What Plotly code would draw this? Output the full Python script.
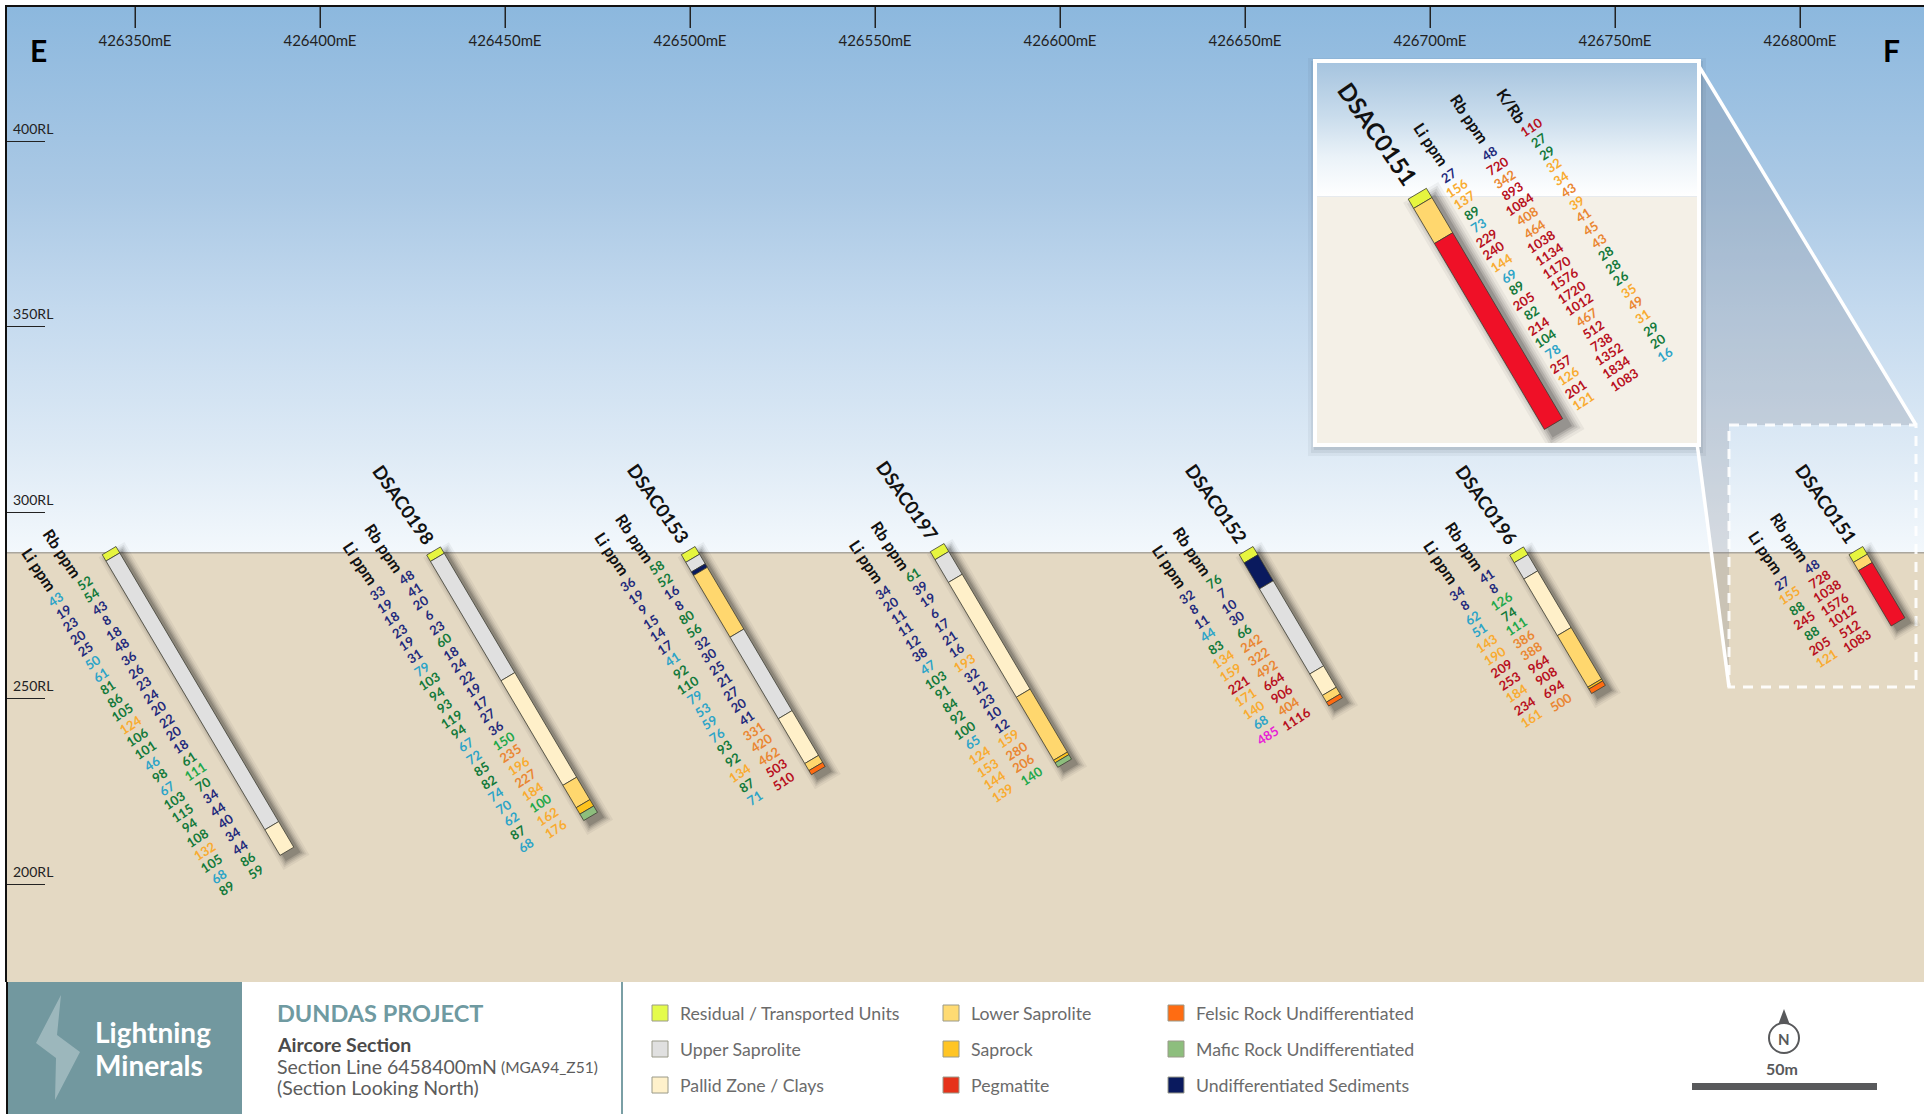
import math
import plotly.graph_objects as go

# ---------------- data ----------------
TICK_E = [426350, 426400, 426450, 426500, 426550, 426600, 426650, 426700, 426750, 426800]
TICK_RL = [200, 250, 300, 350, 400]
SURFACE_RL = 289.2

HOLE_IDS = ["", "DSAC0198", "DSAC0153", "DSAC0197", "DSAC0152", "DSAC0196", "DSAC0151"]
COLLAR_E = [426343.0, 426430.7, 426499.5, 426566.8, 426650.3, 426723.4, 426815.1]
COLLAR_RL = [289.8, 289.7, 289.8, 290.6, 289.8, 289.7, 289.8]

LITH_NAMES = ["Residual / Transported Units", "Upper Saprolite", "Pallid Zone / Clays",
              "Lower Saprolite", "Saprock", "Pegmatite",
              "Felsic Rock Undifferentiated", "Mafic Rock Undifferentiated", "Undifferentiated Sediments"]

# (lithology index, bottom depth in metres) down each hole
LOG_1 = [(0, 2), (1, 86), (2, 94)]
LOG_2 = [(0, 2), (1, 39.3), (2, 72), (3, 79), (4, 81), (7, 83)]
LOG_3 = [(0, 2.4), (1, 5.4), (8, 6.5), (3, 25.8), (1, 51.3), (2, 65.3), (3, 67.5), (6, 68.8)]
LOG_4 = [(0, 2.5), (1, 9.6), (2, 45.5), (3, 65.2), (4, 66), (7, 67.4)]
LOG_5 = [(0, 2.6), (8, 10.7), (1, 37.3), (2, 44), (3, 46.1), (6, 47.3)]
LOG_6 = [(0, 2.4), (1, 7.5), (2, 25.2), (3, 41.3), (4, 41.9), (6, 43.3)]
LOG_7 = [(0, 2.4), (3, 5), (5, 22.3)]
LOG_INSET = [(0, 0.9), (3, 4.3), (5, 22.3)]

LI_1 = [43, 19, 23, 20, 25, 50, 61, 81, 86, 105, 124, 106, 101, 46, 98, 67, 103, 115, 94, 108, 132, 105, 68, 89]
RB_1 = [52, 54, 43, 8, 18, 48, 36, 26, 23, 24, 20, 22, 20, 18, 61, 111, 70, 34, 44, 40, 34, 44, 86, 59]
LI_2 = [33, 19, 18, 23, 19, 31, 79, 103, 94, 93, 119, 94, 67, 72, 85, 82, 74, 70, 62, 87, 68]
RB_2 = [48, 41, 20, 6, 23, 60, 18, 24, 22, 19, 17, 27, 36, 150, 235, 196, 227, 184, 100, 162, 176]
LI_3 = [36, 19, 9, 15, 14, 17, 41, 92, 110, 79, 53, 59, 76, 93, 92, 134, 87, 71]
RB_3 = [58, 52, 16, 8, 80, 56, 32, 30, 25, 21, 27, 20, 41, 331, 420, 462, 503, 510]
LI_4 = [34, 20, 11, 11, 12, 38, 47, 103, 91, 84, 92, 100, 65, 124, 153, 144, 139]
RB_4 = [61, 39, 19, 6, 17, 21, 16, 193, 32, 12, 23, 10, 12, 159, 280, 206, 140]
LI_5 = [32, 8, 11, 44, 83, 134, 159, 221, 171, 140, 68, 485]
RB_5 = [76, 7, 10, 30, 66, 242, 322, 492, 664, 906, 404, 1116]
LI_6 = [34, 8, 62, 51, 143, 190, 209, 253, 184, 234, 161]
RB_6 = [41, 8, 126, 74, 111, 386, 388, 964, 908, 694, 500]
LI_7 = [27, 155, 88, 245, 88, 205, 121]
RB_7 = [48, 728, 1038, 1576, 1012, 512, 1083]
LI_INSET = [27, 156, 137, 89, 73, 229, 240, 144, 69, 89, 205, 82, 214, 104, 78, 257, 126, 201, 121]
RB_INSET = [48, 720, 342, 893, 1084, 408, 464, 1038, 1134, 1170, 1576, 1720, 1012, 467, 512, 738, 1352, 1834, 1083]
KRB_INSET = [110, 27, 29, 32, 34, 43, 39, 41, 45, 43, 28, 28, 26, 35, 49, 31, 29, 20, 16]

LOGS = [LOG_1, LOG_2, LOG_3, LOG_4, LOG_5, LOG_6, LOG_7]
LI_VALUES = [LI_1, LI_2, LI_3, LI_4, LI_5, LI_6, LI_7]
RB_VALUES = [RB_1, RB_2, RB_3, RB_4, RB_5, RB_6, RB_7]

# ---------------- styles & layout constants ----------------
W, H = 1924, 1114
FONT = "Lato"
LITH_COLORS = ["#e6f53f", "#e0e0e0", "#fff0c9", "#ffd76e", "#fdc31e", "#ef1027", "#ff6c12", "#8dbe7d", "#0a1a5e"]
LEGEND_COLORS = ["#e4fb4b", "#e0e0e0", "#fff1cb", "#ffdb73", "#ffc525", "#e6321a", "#ff6c12", "#8dbe7d", "#0a1a5e"]
NAVY, TEAL, GREEN, LIME, AMBER, ORANGE, RED, PINK = ("#1f2a7c", "#2ca4c8", "#12793a", "#1ea84a",
                                                     "#f9ab30", "#ea8632", "#b80f20", "#e81fd6")
# pixel -> axis frame of the main section
PX_X0, PX_Y0, PX_Y1 = 7, 7, 982
SX, SY = 3.7, 3.716
E_AT_135 = 426350
RL_AT_513 = 300
x_lo = E_AT_135 + (PX_X0 - 135) / SX
x_hi = E_AT_135 + (W - 135) / SX
y_hi = RL_AT_513 + (512.7 - PX_Y0) / SY
y_lo = RL_AT_513 - (PX_Y1 - 512.7) / SY
# inset frame
IN_L, IN_R, IN_T, IN_B = 1317, 1697, 63, 443
IK = 12.0
IC_PX = (1417.3, 193.7)
ix_lo = COLLAR_E[6] - (IC_PX[0] - IN_L) / IK
ix_hi = COLLAR_E[6] + (IN_R - IC_PX[0]) / IK
iy_hi = COLLAR_RL[6] + (IC_PX[1] - IN_T) / IK
iy_lo = COLLAR_RL[6] - (IN_B - IC_PX[1]) / IK
IN_SURFACE = COLLAR_RL[6] - (196.7 - IC_PX[1]) / IK

DIR = (math.cos(math.radians(59.4)), math.sin(math.radians(59.4)))
NRM = (-DIR[1], DIR[0])
LABEL_STEP = 14.6
LI_OFF = [(14.7, 70.6), (7.7, 70), (-1.8, 68.7), (10.4, 68.9), (9.1, 75), (5.7, 72.3), (-9.9, 79.8)]
RB_OFF = [(15, 37.6), (8.9, 36.6), (-1.5, 35.1), (10.8, 35.4), (9.7, 42.6), (6.2, 38.5), (-9, 45.4)]


def li_color(v):
    if v < 40: return NAVY
    if v <= 80: return TEAL
    if v < 120: return GREEN
    if v < 200: return AMBER
    if v < 400: return RED
    return PINK


def rb_color(v):
    if v < 50: return NAVY
    if v < 100: return GREEN
    if v <= 150: return LIME
    if v < 200: return AMBER
    if v <= 500: return ORANGE
    return RED


def krb_color(v):
    if v < 20: return TEAL
    if v < 30: return GREEN
    if v < 40: return AMBER
    if v < 100: return ORANGE
    return RED


def section_xy(e, rl, s, t, sx, sy):
    """collar + s px along hole + t px across it, in axis units"""
    return (e + (s * DIR[0] + t * NRM[0]) / sx, rl - (s * DIR[1] + t * NRM[1]) / sy)


def hole_poly(e, rl, d0, d1, half, sx, sy, k, shift=(0, 0), grow=0):
    a, b = (d0 * k - grow), (d1 * k + grow)
    pts = [(a, half + grow), (a, -half - grow), (b, -half - grow), (b, half + grow), (a, half + grow)]
    out = [section_xy(e, rl, s, t, sx, sy) for s, t in pts]
    return [p[0] + shift[0] / sx for p in out], [p[1] - shift[1] / sy for p in out]


fig = go.Figure()

# sky and ground
fig.add_trace(go.Scatter(x=[x_lo, x_hi, x_hi, x_lo, x_lo], y=[SURFACE_RL, SURFACE_RL, y_hi, y_hi, SURFACE_RL],
                         mode="lines", line=dict(width=0), fill="toself", hoverinfo="skip", showlegend=False,
                         fillgradient=dict(type="vertical", colorscale=[[0, "#f3f8fc"], [0.2, "#dce9f5"], [0.45, "#c3d9ee"],
                                                                        [0.66, "#abc9e5"], [1, "#8cb8de"]])))
fig.add_trace(go.Scatter(x=[x_lo, x_hi, x_hi, x_lo, x_lo], y=[y_lo, y_lo, SURFACE_RL, SURFACE_RL, y_lo],
                         mode="lines", line=dict(width=0), fill="toself", fillcolor="#e4d9c3", hoverinfo="skip", showlegend=False))
fig.add_trace(go.Scatter(x=[x_lo, x_hi], y=[SURFACE_RL, SURFACE_RL], mode="lines",
                         line=dict(color="#aaa69d", width=1.5), hoverinfo="skip", showlegend=False))

# easting tick marks hanging from the top frame
tick_x, tick_y = [], []
for v in TICK_E:
    tick_x += [v, v, None]
    tick_y += [y_hi, y_hi - 21 / SY, None]
fig.add_trace(go.Scatter(x=tick_x, y=tick_y, mode="lines", line=dict(color="#222222", width=1),
                         hoverinfo="skip", showlegend=False))


def px_e(px):
    return None if px is None else E_AT_135 + (px - 135) / SX


def px_rl(py):
    return None if py is None else RL_AT_513 - (py - 512.7) / SY


# connector from the zoom box to the inset
BOX = (1729, 1916, 425, 687)
fig.add_trace(go.Scatter(
    x=[px_e(v) for v in (IN_R, BOX[1], BOX[0], BOX[0], IN_R, IN_R)],
    y=[px_rl(v) for v in (IN_T, BOX[2], BOX[2], BOX[3], IN_B, IN_T)],
    mode="lines", line=dict(width=0), fill="toself", fillcolor="rgba(120,125,140,0.24)",
    hoverinfo="skip", showlegend=False))
# inset drop shadow
for g, a in ((9, 0.05), (6, 0.07), (3, 0.09)):
    fig.add_trace(go.Scatter(
        x=[px_e(v) for v in (IN_L - g, IN_R + g, IN_R + g, IN_L - g, IN_L - g)],
        y=[px_rl(v) for v in (IN_T - g + 4, IN_T - g + 4, IN_B + g + 4, IN_B + g + 4, IN_T - g + 4)],
        mode="lines", line=dict(width=0), fill="toself", fillcolor=f"rgba(30,40,60,{a})",
        hoverinfo="skip", showlegend=False))
fig.add_trace(go.Scatter(
    x=[px_e(v) for v in (IN_R, BOX[1], None, IN_R, BOX[0])],
    y=[px_rl(v) for v in (IN_T, BOX[2], None, IN_B, BOX[3])],
    mode="lines", line=dict(color="white", width=3.5), hoverinfo="skip", showlegend=False, connectgaps=False))
fig.add_trace(go.Scatter(
    x=[px_e(v) for v in (BOX[0], BOX[1], BOX[1], BOX[0], BOX[0])],
    y=[px_rl(v) for v in (BOX[2], BOX[2], BOX[3], BOX[3], BOX[2])],
    mode="lines", line=dict(color="rgba(255,255,255,0.9)", width=3, dash="10px 8px"),
    hoverinfo="skip", showlegend=False))


def add_hole(e, rl, log, half, sx, sy, k, xa, ya, shadow_scale=1.0):
    for grow, alpha in ((7, 0.05), (5, 0.07), (3.5, 0.09), (2, 0.12), (0.5, 0.16)):
        xs, ys = hole_poly(e, rl, 0, log[-1][1], half, sx, sy, k,
                           shift=(6 * shadow_scale, 5 * shadow_scale), grow=grow * shadow_scale)
        fig.add_trace(go.Scatter(x=xs, y=ys, xaxis=xa, yaxis=ya, mode="lines", line=dict(width=0),
                                 fill="toself", fillcolor=f"rgba(20,20,20,{alpha})",
                                 hoverinfo="skip", showlegend=False))
    top = 0
    for lith, bottom in log:
        xs, ys = hole_poly(e, rl, top, bottom, half, sx, sy, k)
        fig.add_trace(go.Scatter(x=xs, y=ys, xaxis=xa, yaxis=ya, mode="lines",
                                 line=dict(color="#3c3c32", width=0.8), fill="toself",
                                 fillcolor=LITH_COLORS[lith], name=LITH_NAMES[lith],
                                 hoverinfo="name", showlegend=False))
        top = bottom


for i in range(len(HOLE_IDS)):
    add_hole(COLLAR_E[i], COLLAR_RL[i], LOGS[i], 8.0, SX, SY, SY, "x", "y")

# inset
fig.add_trace(go.Scatter(x=[ix_lo, ix_hi, ix_hi, ix_lo, ix_lo], y=[IN_SURFACE, IN_SURFACE, iy_hi, iy_hi, IN_SURFACE],
                         xaxis="x2", yaxis="y2", mode="lines", line=dict(width=0), fill="toself", hoverinfo="skip",
                         showlegend=False,
                         fillgradient=dict(type="vertical", colorscale=[[0, "#ffffff"], [0.3, "#eaf2f8"], [0.6, "#c9dcec"], [1, "#a6c4df"]])))
fig.add_trace(go.Scatter(x=[ix_lo, ix_hi, ix_hi, ix_lo, ix_lo], y=[iy_lo, iy_lo, IN_SURFACE, IN_SURFACE, iy_lo],
                         xaxis="x2", yaxis="y2", mode="lines", line=dict(width=0), fill="toself",
                         fillcolor="#f4f0e7", hoverinfo="skip", showlegend=False))
add_hole(COLLAR_E[6], COLLAR_RL[6], LOG_INSET, 10.6, IK, IK, IK, "x2", "y2", shadow_scale=1.4)

# legend proxies, three stacked columns
LEGEND_COLUMNS = [("legend", [0, 1, 2]), ("legend2", [3, 4, 5]), ("legend3", [6, 7, 8])]
for lg, items in LEGEND_COLUMNS:
    for j in items:
        fig.add_trace(go.Scatter(x=[None], y=[None], mode="markers", name=LITH_NAMES[j], legend=lg, legendgroup=f"g{j}",
                                 marker=dict(symbol="square", size=16, color=LEGEND_COLORS[j],
                                             line=dict(color="#9a9a8a", width=1)), hoverinfo="skip"))

ann = []


def label(x, y, text, size, color, angle=0, xref="x", yref="y", bold=False, **kw):
    ann.append(dict(x=x, y=y, xref=xref, yref=yref, text=f"<b>{text}</b>" if bold else text, showarrow=False,
                    textangle=angle, xanchor=kw.pop("xanchor", "center"), yanchor="middle",
                    font=dict(family=FONT, size=size, color=color), **kw))


def column(e, rl, values, off, colfn, sx, sy, xa, ya, head, head_ds, head_dt=0, head_size=16):
    for n, v in enumerate(values):
        x, y = section_xy(e, rl, off[0] + n * LABEL_STEP, off[1], sx, sy)
        label(x, y, str(v), 13, colfn(v), angle=-33, xref=xa, yref=ya, bold=True)
    x, y = section_xy(e, rl, off[0] - head_ds, off[1] + head_dt, sx, sy)
    label(x, y, head, head_size, "#111111", angle=56, xref=xa, yref=ya, bold=True)


for i, hid in enumerate(HOLE_IDS):
    column(COLLAR_E[i], COLLAR_RL[i], LI_VALUES[i], LI_OFF[i], li_color, SX, SY, "x", "y", "Li ppm", 34, -1.5)
    column(COLLAR_E[i], COLLAR_RL[i], RB_VALUES[i], RB_OFF[i], rb_color, SX, SY, "x", "y", "Rb ppm", 36, 4)
    if hid:
        x, y = section_xy(COLLAR_E[i], COLLAR_RL[i], -55, 2, SX, SY)
        label(x, y, hid, 18.5, "#111111", angle=55, bold=True)

ce, cr = COLLAR_E[6], COLLAR_RL[6]
column(ce, cr, LI_INSET, (0.2, -37), li_color, IK, IK, "x2", "y2", "Li ppm", 35, 0)
column(ce, cr, RB_INSET, (2.3, -83), rb_color, IK, IK, "x2", "y2", "Rb ppm", 40, 0)
column(ce, cr, KRB_INSET, (1.1, -132), krb_color, IK, IK, "x2", "y2", "K/Rb", 29, 6)
x, y = section_xy(ce, cr, -72, 3, IK, IK)
label(x, y, "DSAC0151", 24, "#111111", angle=55, bold=True, xref="x2", yref="y2")

# RL labels sit just above their ticks
for v in TICK_RL:
    label(33 / W, v, f"{v}RL", 14, "#222222", xref="paper", yshift=13)


def page(xp, yp, text, size, color, bold=False, anchor="left"):
    label(xp / W, 1 - yp / H, text, size, color, xref="paper", yref="paper", bold=bold, xanchor=anchor)


page(38, 50, "E", 30, "#000000", bold=True, anchor="center")
page(1891, 50, "F", 30, "#000000", bold=True, anchor="center")
page(93, 1032, "Lightning", 28, "white", bold=True)
page(93, 1065, "Minerals", 28, "white", bold=True)
page(275, 1013, "DUNDAS PROJECT", 23.5, "#6f9aa1", bold=True)
page(275, 1044, "Aircore Section", 19.5, "#4a4a4a", bold=True)
page(275, 1066, "Section Line 6458400mN", 19.5, "#5c5c5c")
page(499, 1067, "(MGA94_Z51)", 15.5, "#5c5c5c")
page(275, 1087, "(Section Looking North)", 19.5, "#5c5c5c")
page(1784, 1038.5, "N", 15, "#58595b", bold=True, anchor="center")
page(1782, 1068, "50m", 16, "#58595b", bold=True, anchor="center")


def prect(x0, y0, x1, y1, **kw):
    return dict(type="rect", xref="paper", yref="paper", x0=x0 / W, x1=x1 / W, y0=1 - y0 / H, y1=1 - y1 / H, **kw)


def ppath(pts, **kw):
    d = "M" + "L".join(f"{x / W:.5f},{1 - y / H:.5f}" for x, y in pts) + "Z"
    return dict(type="path", xref="paper", yref="paper", path=d, **kw)


shapes = [
    prect(7, 982, 242, H, fillcolor="#72989f", line_width=0),
    prect(621, 982, 623, H, fillcolor="#7a9fa5", line_width=0),
    prect(6, 982, 8, H, fillcolor="#111111", line_width=0),
    ppath([(61, 995), (36, 1043), (56, 1058), (55, 1100), (80, 1052), (57, 1035)],
          fillcolor="rgba(255,255,255,0.3)", line_width=0),
    prect(1692, 1083, 1877, 1090, fillcolor="#58595b", line_width=0),
    ppath([(1784, 1009), (1778, 1025), (1790, 1025)], fillcolor="#58595b", line_width=0),
    dict(type="circle", xref="paper", yref="paper", x0=1769 / W, x1=1799 / W, y0=1 - 1053 / H, y1=1 - 1023 / H,
         line=dict(color="#58595b", width=2), fillcolor="white"),
]

hidden = dict(visible=True, showgrid=False, zeroline=False, showticklabels=False, ticks="", fixedrange=True)
fig.update_layout(
    width=W, height=H, autosize=False, margin=dict(l=0, r=0, t=0, b=0, pad=0),
    paper_bgcolor="white", plot_bgcolor="rgba(0,0,0,0)",
    annotations=ann, shapes=shapes,
    xaxis=dict(domain=[PX_X0 / W, 1], range=[x_lo, x_hi], side="top", anchor="y", tickmode="array", tickvals=TICK_E,
               ticktext=[f"{v}mE" for v in TICK_E], ticks="inside", ticklen=21, tickwidth=1, tickcolor="#222222",
               ticklabelposition="inside", ticklabelstandoff=7, tickfont=dict(family=FONT, size=15, color="#222222"),
               showline=True, linecolor="#111111", linewidth=2, showgrid=False, zeroline=False, fixedrange=True),
    yaxis=dict(domain=[1 - PX_Y1 / H, 1 - PX_Y0 / H], range=[y_lo, y_hi], anchor="x", tickmode="array", tickvals=TICK_RL,
               ticks="inside", ticklen=38, tickwidth=1, tickcolor="#222222", showticklabels=False,
               showline=True, linecolor="#111111", linewidth=2, showgrid=False, zeroline=False, fixedrange=True),
    xaxis2=dict(domain=[IN_L / W, IN_R / W], range=[ix_lo, ix_hi], anchor="y2", showline=True, mirror=True,
                linecolor="white", linewidth=3.5, **hidden),
    yaxis2=dict(domain=[1 - IN_B / H, 1 - IN_T / H], range=[iy_lo, iy_hi], anchor="x2", showline=True, mirror=True,
                linecolor="white", linewidth=3.5, **hidden),
    showlegend=True,
)
for lg, xpx in (("legend", 640), ("legend2", 931), ("legend3", 1156)):
    fig.update_layout({lg: dict(x=xpx / W, y=1 - 995 / H, xanchor="left", yanchor="top", bgcolor="rgba(0,0,0,0)",
                                font=dict(family=FONT, size=17.7, color="#6b6b6b"), tracegroupgap=10,
                                itemclick=False, itemdoubleclick=False)})

fig.write_html("out.html", config=dict(displayModeBar=False),
               post_script="document.body.style.margin='0';document.body.style.overflow='hidden';")
